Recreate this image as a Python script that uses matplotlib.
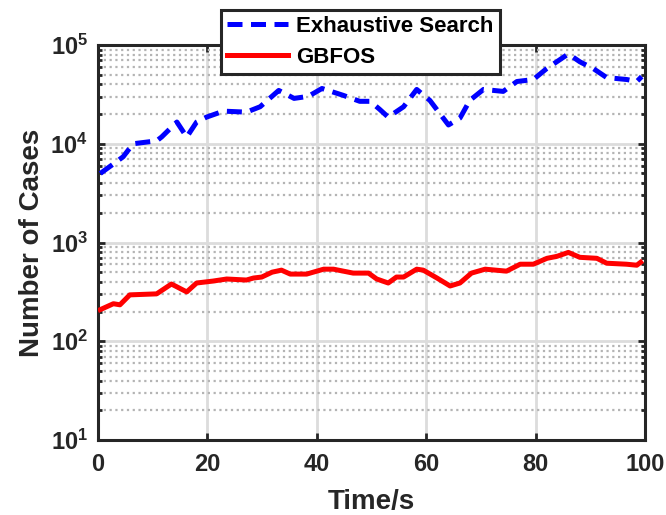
import numpy as np
import matplotlib
matplotlib.use("Agg")
import matplotlib.pyplot as plt
from matplotlib.ticker import LogLocator, NullFormatter, FixedLocator

# ---- data ----
t_exh = [0.5, 3.5, 4.7, 6.5, 10.8, 11.7, 14.5, 16.3, 18.1, 19.9, 23.0, 27.2, 29.7,
         33.1, 35.9, 38.5, 41.0, 44.9, 47.9, 49.8, 51.5, 53.1, 55.9, 58.3, 60.7,
         64.1, 66.2, 68.0, 70.5, 74.1, 76.6, 79.6, 82.0, 86.0, 88.1, 90.6, 93.0,
         96.7, 98.5, 99.4]
exhaustive = [5000, 6600, 7400, 10000, 10700, 11700, 16600, 11700, 16600, 18600,
              21400, 20900, 23700, 34700, 28800, 30200, 36300, 30900, 26900, 26900,
              22400, 18600, 23700, 35500, 27500, 15500, 18200, 27500, 35500, 33900,
              42700, 44700, 57500, 81300, 67600, 57500, 46800, 44700, 42700, 47900]

t_gb = [0.5, 2.9, 4.1, 5.9, 10.8, 13.5, 16.3, 18.1, 21.1, 23.6, 27.2, 28.5, 30.0,
        31.9, 33.6, 35.2, 38.2, 41.3, 43.1, 46.7, 49.5, 51.0, 53.1, 54.6, 55.9,
        58.3, 59.5, 62.0, 64.4, 66.2, 68.3, 70.8, 74.7, 77.2, 79.6, 82.1, 83.9,
        86.0, 88.1, 91.2, 93.0, 96.6, 98.5, 99.2]
gbfos = [209, 240, 234, 295, 302, 380, 316, 389, 407, 427, 417, 437, 447,
         501, 525, 479, 479, 537, 537, 490, 490, 427, 389, 447, 447,
         537, 525, 437, 363, 389, 490, 537, 513, 603, 603, 692, 724,
         794, 708, 692, 617, 603, 589, 631]

x_ticks = [0, 20, 40, 60, 80, 100]

plt.rcParams["font.family"] = ["Liberation Sans", "DejaVu Sans"]
plt.rcParams["font.weight"] = "bold"
plt.rcParams["mathtext.fontset"] = "custom"
plt.rcParams["mathtext.rm"] = "Liberation Sans:bold"
plt.rcParams["mathtext.it"] = "Liberation Sans:bold"
plt.rcParams["mathtext.bf"] = "Liberation Sans:bold"

fig = plt.figure(figsize=(6.66, 5.15), dpi=100)
ax = fig.add_axes([0.1464, 0.1456, 0.8221, 0.767])

ax.plot(t_exh, exhaustive, color="#0000ff", lw=3.6, ls="--", dashes=(3.0, 1.7),
        label="Exhaustive Search", zorder=3)
ax.plot(t_gb, gbfos, color="#ff0000", lw=3.6, label="GBFOS", zorder=3)

ax.set_yscale("log")
ax.set_ylim(10, 1e5)
ax.set_xlim(0, 100)
ax.xaxis.set_major_locator(FixedLocator(x_ticks))
ax.yaxis.set_major_locator(LogLocator(base=10, numticks=10))
ax.yaxis.set_minor_locator(LogLocator(base=10, subs=np.arange(2, 10), numticks=20))
ax.yaxis.set_minor_formatter(NullFormatter())

ax.grid(True, which="major", color="#dcdcdc", lw=2.0, ls="-", zorder=0)
ax.grid(True, which="minor", axis="y", color="#b4b4b4", lw=1.6, ls=(0, (1, 1.6)), zorder=0)
ax.set_axisbelow(True)

ax.tick_params(which="both", direction="in", top=True, right=True, colors="#262626",
               labelcolor="#262626", labelsize=17, width=2)
ax.tick_params(which="major", length=5)
ax.tick_params(axis="x", which="major", pad=9)
ax.tick_params(axis="y", which="major", pad=7)
ax.tick_params(which="minor", length=3)
for s in ax.spines.values():
    s.set_linewidth(2.2)
    s.set_color("#262626")

ax.set_xlabel("Time/s", fontsize=20, fontweight="bold", color="#262626", labelpad=10)
ax.set_ylabel("Number of Cases", fontsize=20, fontweight="bold", color="#262626", labelpad=4)

leg = ax.legend(loc="upper center", bbox_to_anchor=(0.48, 1.089), fancybox=False,
                framealpha=1, edgecolor="#262626", fontsize=16, handlelength=2.75,
                borderpad=0.28, labelspacing=0.45, handletextpad=0.35, borderaxespad=0)
leg.get_frame().set_linewidth(2.2)
leg.set_zorder(5)

fig.savefig("out.png", dpi=100)
